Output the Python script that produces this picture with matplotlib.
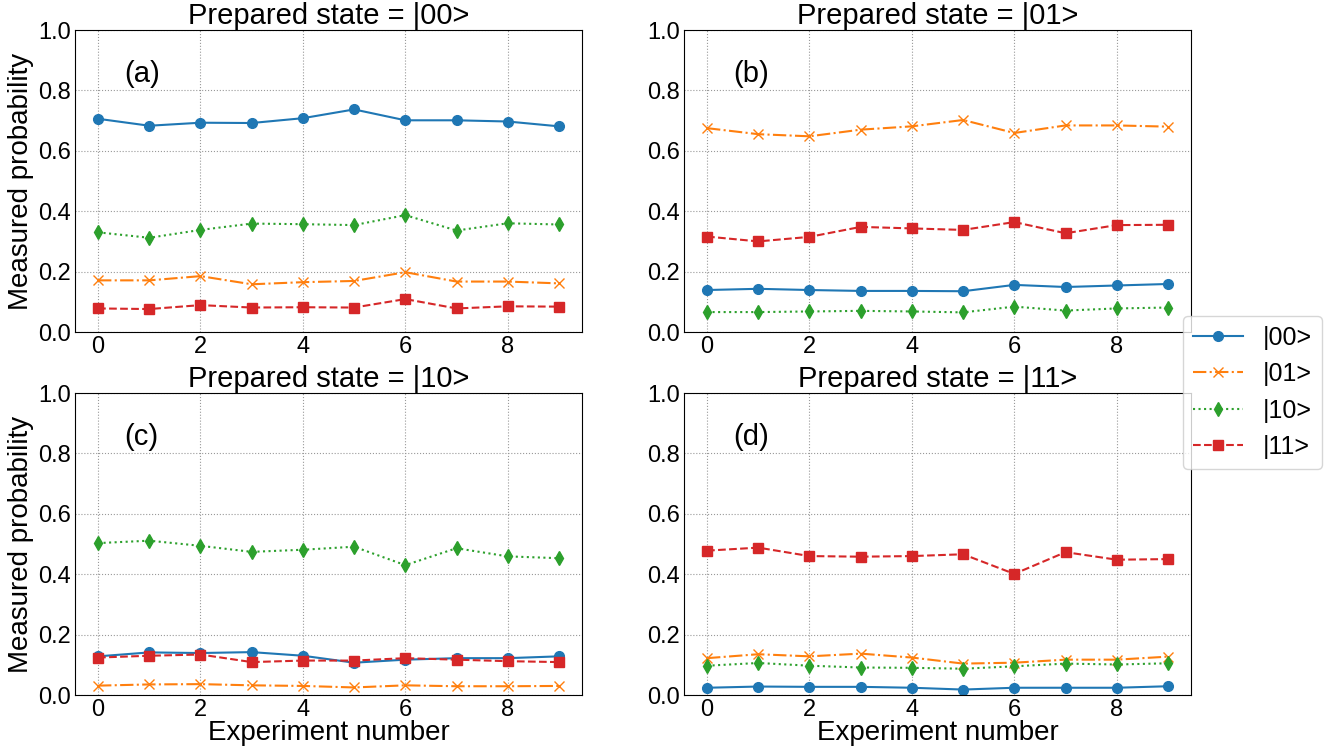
import matplotlib
matplotlib.use("Agg")
import matplotlib.pyplot as plt

plt.rcParams['font.family'] = ['Liberation Sans', 'DejaVu Sans']

experiments = list(range(10))
states = ['|00>', '|01>', '|10>', '|11>']
panel_tags = ['(a)', '(b)', '(c)', '(d)']

# measured probabilities, one dict per prepared state
prep_00 = {
    '|00>': [0.706, 0.683, 0.693, 0.692, 0.708, 0.737, 0.701, 0.701, 0.697, 0.681],
    '|01>': [0.171, 0.171, 0.185, 0.158, 0.165, 0.169, 0.198, 0.167, 0.167, 0.161],
    '|10>': [0.330, 0.312, 0.338, 0.359, 0.357, 0.354, 0.387, 0.336, 0.360, 0.356],
    '|11>': [0.078, 0.076, 0.089, 0.081, 0.082, 0.081, 0.109, 0.078, 0.085, 0.084],
}
prep_01 = {
    '|00>': [0.139, 0.143, 0.139, 0.136, 0.136, 0.135, 0.156, 0.149, 0.154, 0.159],
    '|01>': [0.675, 0.655, 0.648, 0.670, 0.681, 0.702, 0.659, 0.684, 0.684, 0.680],
    '|10>': [0.066, 0.066, 0.068, 0.070, 0.068, 0.065, 0.084, 0.071, 0.078, 0.081],
    '|11>': [0.316, 0.300, 0.315, 0.348, 0.343, 0.338, 0.364, 0.327, 0.354, 0.355],
}
prep_10 = {
    '|00>': [0.128, 0.141, 0.139, 0.142, 0.130, 0.107, 0.117, 0.122, 0.122, 0.128],
    '|01>': [0.031, 0.035, 0.036, 0.032, 0.030, 0.025, 0.032, 0.029, 0.029, 0.030],
    '|10>': [0.503, 0.511, 0.494, 0.474, 0.481, 0.491, 0.430, 0.486, 0.459, 0.453],
    '|11>': [0.124, 0.130, 0.134, 0.109, 0.114, 0.114, 0.122, 0.117, 0.112, 0.109],
}
prep_11 = {
    '|00>': [0.024, 0.028, 0.027, 0.027, 0.024, 0.018, 0.024, 0.024, 0.024, 0.029],
    '|01>': [0.122, 0.135, 0.128, 0.137, 0.124, 0.104, 0.107, 0.117, 0.117, 0.127],
    '|10>': [0.097, 0.106, 0.097, 0.091, 0.090, 0.087, 0.095, 0.104, 0.101, 0.105],
    '|11>': [0.478, 0.488, 0.460, 0.458, 0.460, 0.466, 0.401, 0.473, 0.448, 0.450],
}
prepared = [prep_00, prep_01, prep_10, prep_11]

# line style per measured state
styles = {
    '|00>': dict(color='#1f77b4', linestyle='-', marker='o'),
    '|01>': dict(color='#ff7f0e', linestyle='-.', marker='x'),
    '|10>': dict(color='#2ca02c', linestyle=':', marker='d'),
    '|11>': dict(color='#d62728', linestyle='--', marker='s'),
}

fig = plt.figure(figsize=(13.43, 7.53), dpi=100)

# axes boxes in figure fractions (left, bottom, width, height)
W, H = 1343, 753
boxes = [
    (75 / W, (H - 332) / H, 507 / W, 302 / H),
    (684 / W, (H - 332) / H, 507 / W, 302 / H),
    (75 / W, (H - 695) / H, 507 / W, 302 / H),
    (684 / W, (H - 695) / H, 507 / W, 302 / H),
]

for i, (data, box) in enumerate(zip(prepared, boxes)):
    ax = fig.add_axes(box)
    for s in states:
        ax.plot(experiments, data[s], label=s, linewidth=1.5, markersize=7, **styles[s])
    ax.set_ylim(0, 1.0)
    ax.set_xticks([0, 2, 4, 6, 8])
    ax.set_yticks([0.0, 0.2, 0.4, 0.6, 0.8, 1.0])
    ax.grid(True, linestyle=':', color='#999999', linewidth=0.8)
    ax.set_axisbelow(True)
    ax.tick_params(labelsize=17, length=0, pad=3)
    ax.set_title('Prepared state = ' + states[i], fontsize=21, pad=2)
    ax.text(0.097, 0.853, panel_tags[i], transform=ax.transAxes,
            fontsize=21, ha='left', va='center')
    if i % 2 == 0:
        ax.set_ylabel('Measured probability', fontsize=20, labelpad=3)
    if i >= 2:
        ax.set_xlabel('Experiment number', fontsize=20, labelpad=-1)
    if i == 0:
        handles, labels = ax.get_legend_handles_labels()

fig.legend(handles, labels, loc='upper left', bbox_to_anchor=(0.881, 0.581),
           borderaxespad=0, fontsize=18)

fig.savefig('out.png', dpi=100)
